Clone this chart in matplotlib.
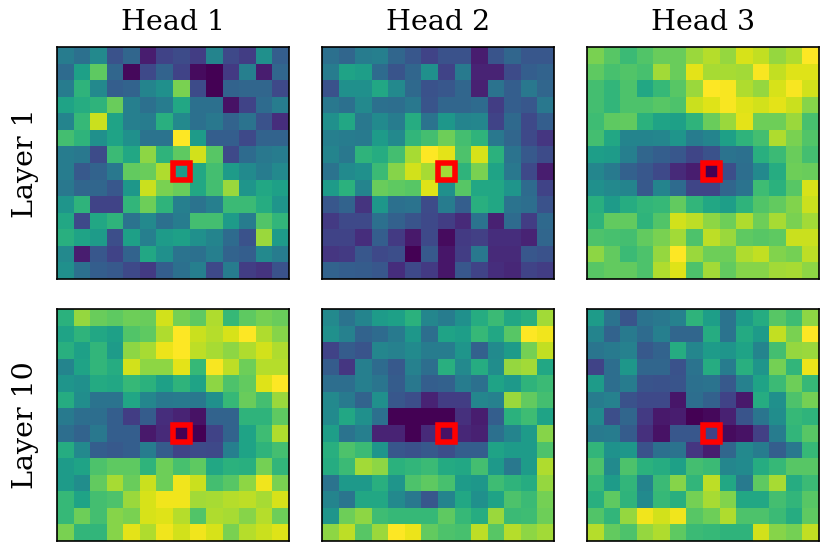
import matplotlib
matplotlib.use("Agg")
import matplotlib.pyplot as plt
from matplotlib.patches import Rectangle

plt.rcParams["font.family"] = "DejaVu Serif"

heads = ["Head 1", "Head 2", "Head 3"]
layers = ["Layer 1", "Layer 10"]
query_cell = (7, 7)

l1_h1 = [
    [.42, .37, .47, .25, .33, .08, .20, .23, .18, .45, .22, .18, .50, .30],
    [.35, .57, .75, .33, .02, .22, .32, .20, .03, .00, .17, .43, .08, .33],
    [.42, .65, .47, .30, .32, .45, .50, .80, .23, .00, .32, .33, .33, .22],
    [.58, .62, .65, .77, .43, .37, .42, .60, .37, .37, .05, .20, .35, .42],
    [.45, .67, .92, .58, .43, .42, .63, .47, .37, .40, .32, .38, .25, .13],
    [.70, .65, .50, .58, .50, .38, .38, 1.0, .55, .30, .30, .22, .32, .32],
    [.42, .40, .23, .68, .60, .83, .65, .75, .93, .74, .22, .35, .40, .42],
    [.42, .28, .32, .40, .76, .77, .88, .55, .60, .70, .55, .48, .42, .47],
    [.40, .33, .33, .27, .53, .92, .80, .77, .60, .70, .85, .52, .60, .57],
    [.52, .65, .20, .20, .66, .78, .65, .43, .38, .43, .68, .68, .62, .52],
    [.60, .22, .60, .65, .38, .47, .37, .42, .70, .70, .55, .42, .73, .66],
    [.63, .58, .55, .24, .57, .43, .55, .57, .50, .45, .35, .25, .85, .55],
    [.47, .08, .27, .20, .32, .60, .50, .38, .37, .43, .32, .30, .47, .42],
    [.50, .37, .30, .28, .22, .17, .30, .37, .43, .22, .42, .18, .15, .25],
]
l1_h2 = [
    [.37, .33, .42, .43, .33, .27, .20, .25, .25, .08, .26, .33, .27, .27],
    [.42, .58, .56, .35, .26, .33, .50, .20, .41, .10, .10, .23, .30, .32],
    [.25, .50, .50, .60, .47, .34, .25, .27, .33, .09, .38, .30, .40, .33],
    [.40, .37, .47, .37, .36, .40, .26, .33, .33, .35, .18, .30, .27, .40],
    [.50, .60, .40, .48, .42, .62, .38, .53, .45, .46, .20, .34, .22, .30],
    [.43, .42, .41, .55, .47, .66, .70, .78, .70, .65, .40, .33, .22, .16],
    [.45, .40, .65, .62, .70, .87, 1.0, .96, .72, .94, .64, .38, .28, .23],
    [.38, .48, .50, .68, .82, .93, .87, .86, .65, .80, .58, .40, .22, .08],
    [.55, .64, .45, .77, .75, .74, .95, .50, .74, .60, .60, .52, .35, .20],
    [.27, .32, .15, .53, .37, .38, .23, .42, .30, .63, .60, .38, .36, .25],
    [.17, .22, .22, .37, .31, .26, .22, .18, .12, .38, .09, .35, .18, .34],
    [.20, .20, .13, .30, .17, .07, .22, .03, .17, .19, .13, .13, .10, .33],
    [.16, .17, .27, .22, .24, .00, .28, .06, .18, .40, .12, .12, .27, .25],
    [.32, .30, .29, .27, .13, .22, .17, .06, .27, .20, .13, .11, .20, .18],
]
l1_h3 = [
    [.80, .74, .68, .73, .77, .77, .85, .89, .84, .94, .91, .84, .88, 1.0],
    [.75, .71, .73, .71, .86, .77, .96, .87, .87, .86, .99, .91, .95, .95],
    [.70, .66, .72, .60, .67, .74, .85, 1.0, .99, .88, .84, .94, .99, .93],
    [.70, .66, .72, .72, .74, .72, .92, .95, .99, .95, .93, .96, .92, .82],
    [.69, .75, .76, .64, .58, .57, .65, .77, .85, .96, .78, .78, .85, .71],
    [.70, .60, .45, .45, .46, .52, .42, .45, .57, .65, .70, .88, .80, .73],
    [.56, .55, .43, .33, .30, .27, .21, .25, .38, .37, .63, .68, .77, .70],
    [.46, .41, .31, .27, .22, .12, .08, .00, .24, .36, .47, .62, .78, .77],
    [.50, .47, .45, .28, .45, .35, .21, .21, .33, .38, .69, .64, .74, .94],
    [.63, .55, .62, .66, .67, .76, .66, .60, .56, .65, .73, .76, .81, .92],
    [.65, .76, .76, .65, .73, .93, .90, .83, .78, .88, .78, .87, .80, .86],
    [.72, .71, .70, .76, .80, .86, .72, .90, .85, .75, .74, .75, .92, .92],
    [.83, .76, .68, .72, .84, 1.0, .85, .78, .78, .88, .91, .81, .79, .90],
    [.74, .76, .76, .72, .88, .95, .72, .86, .76, .82, .82, .86, .87, .83],
]
l10_h1 = [
    [.64, .84, .77, .75, .78, .77, .93, .79, .75, .88, .67, .75, .79, .77],
    [.58, .65, .60, .57, .73, .75, .88, 1.0, .92, .89, .94, 1.0, .88, .82],
    [.63, .57, .66, .55, .83, .87, .97, 1.0, .90, .87, .83, .88, .93, .88],
    [.45, .58, .66, .62, .93, .83, .83, .96, .67, .99, .90, .78, .89, .89],
    [.52, .50, .61, .60, .67, .64, .57, .65, .58, .83, .72, .76, .95, 1.0],
    [.62, .49, .38, .38, .59, .46, .40, .41, .40, .50, .67, .77, .70, .85],
    [.41, .36, .36, .30, .18, .29, .13, .10, .05, .32, .32, .65, .65, .75],
    [.36, .32, .40, .30, .30, .07, .12, .00, .00, .20, .32, .58, .69, .88],
    [.62, .47, .30, .28, .30, .42, .29, .20, .23, .22, .43, .58, .65, .70],
    [.55, .58, .72, .75, .75, .65, .78, .71, .75, .60, .64, .63, .79, .66],
    [.55, .49, .76, .87, .77, .92, .78, .98, .92, .70, .74, .83, .98, .80],
    [.67, .58, .70, .72, .85, .94, .98, .98, .86, .87, .89, .90, .87, .94],
    [.67, .78, .70, .82, .80, .94, .95, .89, .73, .88, .87, .82, .89, .78],
    [.80, .66, .66, .82, .96, .88, .98, .93, .98, .94, .80, .89, .92, .95],
]
l10_h2 = [
    [.47, .38, .45, .55, .57, .64, .46, .42, .50, .62, .68, .60, .63, .86],
    [.50, .44, .32, .35, .41, .53, .36, .58, .56, .67, .60, .74, 1.0, .98],
    [.20, .29, .26, .46, .44, .48, .42, .42, .52, .31, .48, .55, .79, .91],
    [.29, .16, .43, .35, .28, .44, .36, .63, .47, .62, .49, .84, .86, .60],
    [.36, .36, .43, .39, .29, .40, .30, .31, .42, .37, .58, .54, .65, .68],
    [.47, .41, .32, .50, .27, .24, .10, .18, .18, .46, .44, .85, .76, .70],
    [.48, .60, .50, .37, .00, .00, .00, .00, .14, .08, .30, .64, .69, .58],
    [.56, .38, .43, .10, .10, .00, .12, .05, .11, .09, .37, .45, .55, .82],
    [.63, .72, .68, .52, .27, .25, .28, .24, .30, .30, .58, .55, .55, .72],
    [.62, .68, .86, .83, .64, .66, .68, .61, .60, .70, .54, .40, .55, .88],
    [.38, .54, .54, .63, .52, .72, .75, .71, .55, .53, .69, .65, .62, .84],
    [.45, .39, .60, .60, .47, .40, .27, .45, .60, .50, .58, .72, .68, .79],
    [.52, .78, .83, .69, .67, .67, .67, .75, .67, .62, .85, .68, .69, .78],
    [.83, .90, .74, .85, 1.0, .97, .76, .72, .71, .90, .74, .89, .83, .86],
]
l10_h3 = [
    [.55, .38, .26, .38, .40, .44, .65, .56, .38, .55, .62, .74, .69, .83],
    [.45, .32, .41, .35, .43, .33, .33, .62, .38, .61, .55, .91, .80, 1.0],
    [.39, .41, .44, .28, .32, .62, .46, .55, .52, .58, .45, .70, .84, .85],
    [.20, .36, .53, .33, .33, .25, .38, .62, .42, .63, .52, .79, .66, .97],
    [.55, .36, .42, .26, .25, .26, .37, .38, .28, .44, .58, .68, .78, .67],
    [.42, .44, .25, .22, .22, .06, .36, .31, .20, .07, .62, .50, .72, .79],
    [.48, .24, .33, .17, .07, .08, .00, .02, .09, .26, .39, .49, .67, .65],
    [.41, .42, .29, .14, .05, .27, .27, .20, .03, .05, .19, .42, .66, .74],
    [.66, .51, .53, .25, .37, .38, .16, .08, .33, .47, .42, .30, .40, .67],
    [.72, .48, .72, .64, .62, .57, .70, .68, .46, .48, .62, .67, .74, .74],
    [.67, .55, .66, .45, .68, .82, .66, .90, .60, .41, .75, .87, .62, .68],
    [.63, .75, .65, .48, .67, .63, .79, .87, .81, .60, .60, .70, .66, .74],
    [.73, .66, .84, .98, .93, .98, .74, .78, .88, .72, .72, .68, .62, .75],
    [.89, .76, .72, .84, .88, .75, .68, .67, .65, .65, .93, .82, .79, .91],
]

maps = [[l1_h1, l1_h2, l1_h3], [l10_h1, l10_h2, l10_h3]]

W, H = 830, 554
lefts = [57, 322, 587]
tops = [47, 309]
side = 232

fig = plt.figure(figsize=(W / 100, H / 100), dpi=100)

for r, row in enumerate(maps):
    for c, grid in enumerate(row):
        ax = fig.add_axes([lefts[c] / W, 1 - (tops[r] + side) / H, side / W, side / H])
        ax.imshow(grid, cmap="viridis", vmin=0, vmax=1)
        ax.add_patch(Rectangle((query_cell[0] - 0.5, query_cell[1] - 0.5), 1, 1,
                               fill=False, edgecolor="red", linewidth=4))
        ax.set_xticks([])
        ax.set_yticks([])
        for s in ax.spines.values():
            s.set_linewidth(1.2)
        if r == 0:
            ax.set_title(heads[c], fontsize=20.5, pad=12)
        if c == 0:
            ax.set_ylabel(layers[r], fontsize=20.5, labelpad=13)

fig.savefig("out.png", dpi=100)
